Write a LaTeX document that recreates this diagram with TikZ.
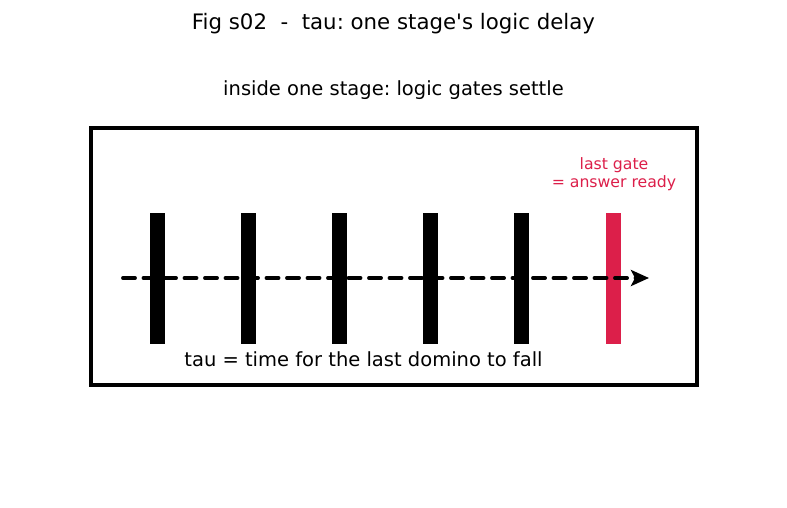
\documentclass[tikz,border=0pt]{standalone}
\usepackage{fontspec}
\setmainfont{DejaVu Sans}
\usetikzlibrary{arrows.meta}
\definecolor{gatered}{HTML}{DC1F4A}
\frenchspacing
\tikzset{
  gate/.style={fill=black, draw=none},
  redgate/.style={fill=gatered, draw=none},
  frame/.style={draw=black, line width=4.2pt},
  flow/.style={line width=3.9pt, dash pattern=on 12pt off 8.5pt, line cap=round, -{Stealth[length=18pt,width=16pt,inset=4pt]}},
  title/.style={font=\fontsize{21.3}{24}\selectfont, inner sep=0pt},
  lbl/.style={font=\fontsize{19.5}{23}\selectfont, inner sep=0pt},
  redlbl/.style={font=\fontsize{15.7}{17.5}\selectfont, text=gatered, align=center, inner sep=0pt}
}
\begin{document}
\begin{tikzpicture}[x=1pt,y=-1pt]
\useasboundingbox (0,0) rectangle (787,508);
\node[title] (title) at (393.5,23.5) {Fig s02\ \ -\ \ tau: one stage\textquotesingle s logic delay};
\node[lbl] (sub) at (393.5,90) {inside one stage: logic gates settle};
\node[frame, minimum width=606pt, minimum height=257pt, inner sep=0pt] (box) at (394,256.5) {};
\foreach \x/\n in {157/g1,248/g2,339/g3,430/g4,521/g5}{
  \node[gate, minimum width=15pt, minimum height=131pt, inner sep=0pt] (\n) at (\x,278.5) {};
}
\node[redgate, minimum width=15pt, minimum height=131pt, inner sep=0pt] (g6) at (613,278.5) {};
\coordinate (s) at (123,278);
\coordinate (e) at (649,278);
\draw[flow] (s) -- (e);
\node[redlbl] (rl) at (614,174) {last gate\\= answer ready};
\node[lbl] (bot) at (363.5,359) {tau = time for the last domino to fall};
\end{tikzpicture}
\end{document}
